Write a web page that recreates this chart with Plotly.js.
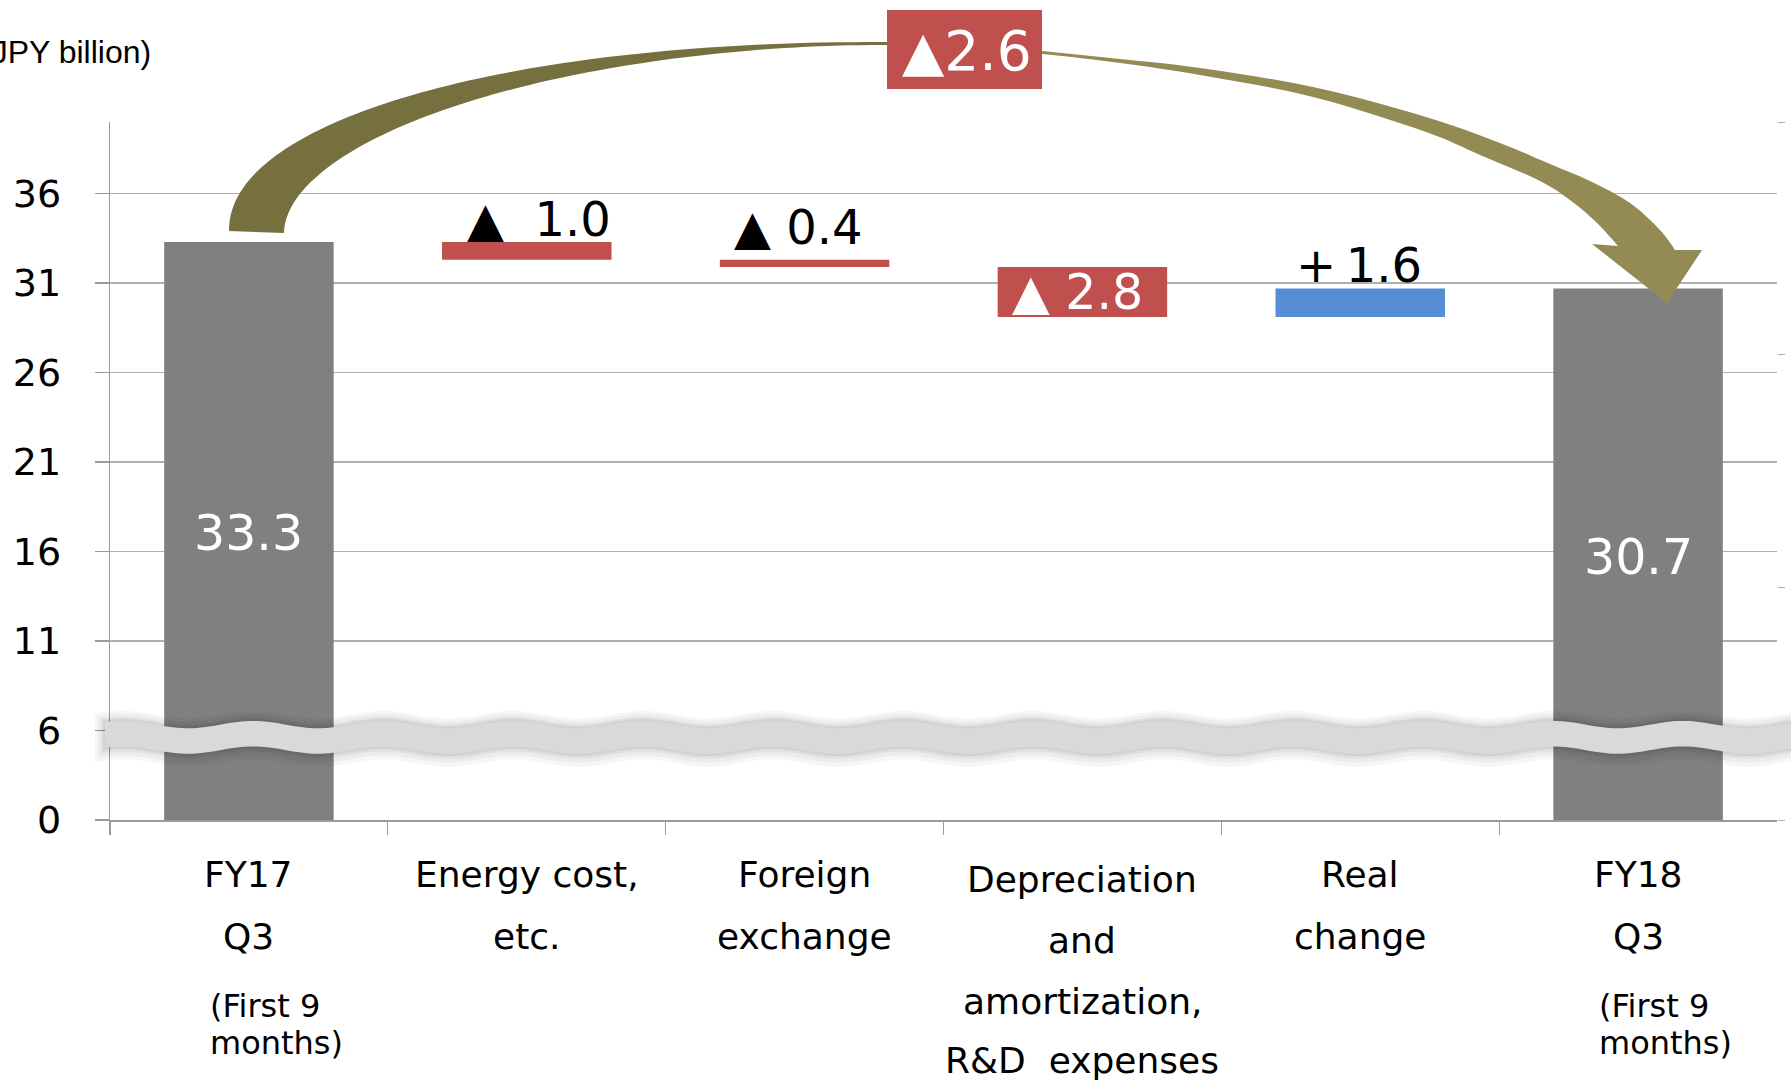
<!DOCTYPE html>
<html>
<head>
<meta charset="utf-8">
<script src="https://cdn.plot.ly/plotly-3.0.1.min.js"></script>
<style>
html,body{margin:0;padding:0;background:#ffffff;}
#chart{width:1791px;height:1085px;}
</style>
</head>
<body>
<div id="chart"></div>
<script>
// ---------------- data ----------------
const categories = ["FY17 Q3", "Energy cost, etc.", "Foreign exchange",
  "Depreciation and amortization, R&D expenses", "Real change", "FY18 Q3"];
const startTotal = 33.3;                 // FY17 Q3 (first 9 months)
const endTotal = 30.7;                   // FY18 Q3 (first 9 months)
const changeValues = [-1.0, -0.4, -2.8, 1.6];
const totalChange = -2.6;
const yTickVals = [1, 6, 11, 16, 21, 26, 31, 36];
const yTickText = ["0", "6", "11", "16", "21", "26", "31", "36"];
const categoryLines = [
  ["FY17", "Q3"],
  ["Energy cost,", "etc."],
  ["Foreign", "exchange"],
  ["Depreciation", "and", "amortization,", "R&amp;D\u00a0\u00a0expenses"],
  ["Real", "change"],
  ["FY18", "Q3"]
];
const periodNote = ["(First 9", "months)"];
const periodNoteCats = [0, 5];
const unitLabel = "(JPY billion)";

// ---------------- style / geometry ----------------
const W = 1791, H = 1085, L = 110, R = 14, T = 122, B = 265;
const plotW = W - L - R, plotH = H - T - B;
const yMin = 1, yMax = 40;
const GRAY = '#808080', RED = '#C0504D', BLUE = '#558ED5';
const FONT = 'DejaVu Sans, Verdana, sans-serif';
const AXC = '#9a9a9a';

function pxX(px) { return (px - L) / plotW; }
function pxY(py) { return (H - B - py) / plotH; }

// ---------------- waterfall bars ----------------
const bases = [], heights = [], colors = [];
bases.push(0); heights.push(startTotal); colors.push(GRAY);
let running = startTotal;
changeValues.forEach(v => {
  const next = running + v;
  bases.push(Math.min(running, next));
  heights.push(Math.abs(v));
  colors.push(v < 0 ? RED : BLUE);
  running = next;
});
bases.push(0); heights.push(endTotal); colors.push(GRAY);

const traces = [
  {
    type: 'bar', x: categories, y: heights, base: bases,
    marker: {color: colors, line: {width: 0}}, width: 0.61,
    hoverinfo: 'skip', showlegend: false
  },
  {
    type: 'scatter', x: [categories[0]], y: [null], yaxis: 'y2',
    mode: 'markers', hoverinfo: 'skip', showlegend: false
  }
];

// ---------------- annotations ----------------
const annotations = [];
const rowsTwo = [874, 936], rowsFour = [879.5, 940.5, 1001, 1060.5];
categoryLines.forEach((lines, i) => {
  const rows = lines.length === 4 ? rowsFour : rowsTwo;
  lines.forEach((t, j) => annotations.push({
    xref: 'x', yref: 'paper', x: categories[i], y: pxY(rows[j]), text: t,
    showarrow: false, xanchor: 'center', yanchor: 'middle',
    font: {family: FONT, size: 36, color: '#000'}
  }));
});
periodNoteCats.forEach(i => {
  [1006, 1043].forEach((row, j) => annotations.push({
    xref: 'x', yref: 'paper', x: categories[i], y: pxY(row), text: periodNote[j],
    showarrow: false, xanchor: 'left', yanchor: 'middle', xshift: -41,
    font: {family: FONT, size: 32, color: '#000'}
  }));
});

// totals inside gray bars
[[0, startTotal], [5, endTotal]].forEach(([i, v]) => annotations.push({
  xref: 'x', yref: 'y', x: categories[i], y: (yMin + v) / 2, yshift: -3,
  text: v.toFixed(1), showarrow: false, xanchor: 'center', yanchor: 'middle',
  font: {family: FONT, size: 49, color: '#ffffff'}
}));

// change labels
const gapText = ['\u00a0\u00a0', '\u00a0', '\u00a0', '\u2009'];
const labelShift = [[12, 23, false], [-6.5, 33, false], [-4.5, 0, true], [-1, 23, false]];
changeValues.forEach((v, k) => {
  const i = k + 1;
  const txt = (v < 0 ? '\u25B2' : '+') + gapText[k] + Math.abs(v).toFixed(1);
  const [dx, dy, inside] = labelShift[k];
  const top = bases[i] + heights[i];
  annotations.push({
    xref: 'x', yref: 'y', x: categories[i],
    y: inside ? bases[i] + heights[i] / 2 : top,
    xshift: dx, yshift: dy, text: txt, showarrow: false,
    xanchor: 'center', yanchor: 'middle',
    font: {family: FONT, size: inside ? 49 : 48, color: inside ? '#ffffff' : '#000000'}
  });
});

// total change box label
const totalTxt = (totalChange < 0 ? '\u25B2' : '+') + Math.abs(totalChange).toFixed(1);
annotations.push({
  xref: 'paper', yref: 'paper', x: pxX(967), y: pxY(50.5), text: totalTxt,
  showarrow: false, xanchor: 'center', yanchor: 'middle',
  font: {family: FONT, size: 55, color: '#ffffff'}
});

// unit label
annotations.push({
  xref: 'paper', yref: 'paper', x: pxX(153), y: pxY(52), text: unitLabel,
  showarrow: false, xanchor: 'right', yanchor: 'middle',
  font: {family: 'Liberation Sans, Arial, sans-serif', size: 32, color: '#000'}
});

// ---------------- decorative shapes ----------------
function smooth(pts, n) {
  n = n || 8;
  const out = [];
  for (let i = 0; i < pts.length - 1; i++) {
    const p0 = pts[Math.max(i - 1, 0)], p1 = pts[i], p2 = pts[i + 1], p3 = pts[Math.min(i + 2, pts.length - 1)];
    for (let k = 0; k < n; k++) {
      const t = k / n, t2 = t * t, t3 = t2 * t;
      const f = (a, b, c, d) => 0.5 * ((2 * b) + (-a + c) * t + (2 * a - 5 * b + 4 * c - d) * t2 + (-a + 3 * b - 3 * c + d) * t3);
      out.push([f(p0[0], p1[0], p2[0], p3[0]), f(p0[1], p1[1], p2[1], p3[1])]);
    }
  }
  out.push(pts[pts.length - 1]);
  return out;
}
function pathFrom(pts) {
  return 'M' + pts.map(p => pxX(p[0]).toFixed(5) + ',' + pxY(p[1]).toFixed(5)).join('L') + 'Z';
}
// quarter super-ellipse from (cx-a, cy) up to (cx, cy-b)
function superArc(cx, cy, a, b, n, steps) {
  const pts = [];
  for (let s = 0; s <= steps; s++) {
    const th = (Math.PI / 2) * s / steps;
    const u = Math.pow(Math.cos(th), 2 / n), v = Math.pow(Math.sin(th), 2 / n);
    pts.push([cx - a * u, cy - b * v]);
  }
  return pts;
}

const shapes = [];

// axis break band (wavy) with soft shadow
function bandPts(x0, x1, d, dBelow) {
  const top = [], bot = [];
  for (let x = x0; x <= x1; x += 4) {
    const yt = 724.6 - 3.7 * Math.cos(2 * Math.PI * (x - 253) / 130);
    top.push([x, yt - d]);
    bot.push([x, yt + 25.5 + dBelow]);
  }
  return top.concat(bot.reverse());
}
[[10, 13, 0.035], [7, 9, 0.04], [4, 5, 0.05], [2, 2.5, 0.06]].forEach(([d, db, a]) => {
  shapes.push({type: 'path', xref: 'paper', yref: 'paper', layer: 'above',
    path: pathFrom(bandPts(105 - d, 1800, d, db)),
    fillcolor: 'rgba(0,0,0,' + a + ')', line: {width: 0}});
});
shapes.push({type: 'path', xref: 'paper', yref: 'paper', layer: 'above',
  path: pathFrom(bandPts(105, 1800, 0, 0)), fillcolor: '#D9D9D9', line: {width: 0}});

// curved arrow (left, darker part) – outer and inner edges as super-elliptic arcs
const outerL = superArc(880, 231, 651, 189, 2.1, 80).concat([[975, 42]]);
const innerL = superArc(880, 233, 596, 188, 1.9, 80).concat([[975, 46]]).reverse();
shapes.push({type: 'path', xref: 'paper', yref: 'paper', layer: 'above',
  path: pathFrom(outerL.concat(innerL)),
  fillcolor: '#76703F', line: {width: 0}});
// right, lighter part with head
const outerR = [[955,43],[1042,51],[1120,59],[1200,68],[1313,87],[1426,117],[1500,143],[1550,164],[1590,181],[1630,203],[1660,230],[1675,250]];
const head = [[1702,250],[1667,303],[1592,244]];
const innerR = [[1618,246],[1597,223],[1570,200],[1538,180],[1480,155],[1426,132],[1313,97],[1200,75],[1120,63],[1042,54],[955,47]];
shapes.push({type: 'path', xref: 'paper', yref: 'paper', layer: 'above',
  path: pathFrom(smooth(outerR).concat(head).concat(smooth(innerR))),
  fillcolor: '#948A54', line: {width: 0}});

// total change box
shapes.push({type: 'rect', xref: 'paper', yref: 'paper', layer: 'above',
  x0: pxX(887), x1: pxX(1042), y0: pxY(89), y1: pxY(10),
  fillcolor: RED, line: {width: 0}});

// hide the extra category-boundary tick at the far right end of the x axis
shapes.push({type: 'rect', xref: 'paper', yref: 'paper', layer: 'above',
  x0: pxX(1774), x1: pxX(1782), y0: pxY(836), y1: pxY(822),
  fillcolor: '#ffffff', line: {width: 0}});

// ---------------- layout ----------------
const layout = {
  width: W, height: H,
  margin: {l: L, r: R, t: T, b: B, pad: 0},
  paper_bgcolor: '#ffffff', plot_bgcolor: '#ffffff',
  showlegend: false,
  xaxis: {
    type: 'category', range: [-0.5, 5.5], showticklabels: false,
    ticks: 'outside', tickson: 'boundaries', ticklen: 13, tickcolor: AXC, tickwidth: 1.3,
    showline: true, linecolor: AXC, linewidth: 1.5, showgrid: false, zeroline: false,
    fixedrange: true
  },
  yaxis: {
    range: [yMin, yMax], tickvals: yTickVals, ticktext: yTickText,
    ticks: 'outside', ticklen: 14, tickcolor: AXC, tickwidth: 1.3,
    ticklabelstandoff: 26,
    showline: true, linecolor: AXC, linewidth: 1.3,
    showgrid: true, gridcolor: '#B0B0B0', gridwidth: 1.4, zeroline: false,
    tickfont: {family: FONT, size: 38, color: '#000'}, fixedrange: true
  },
  yaxis2: {
    overlaying: 'y', side: 'right', range: [yMin, yMax], tickvals: [1, 14, 27, 40],
    showticklabels: false, ticks: 'outside', ticklen: 7, tickcolor: '#b0b0b0',
    showgrid: false, showline: false, zeroline: false, fixedrange: true
  },
  bargap: 0.39,
  annotations: annotations,
  shapes: shapes
};

Plotly.newPlot('chart', traces, layout, {displayModeBar: false, staticPlot: true});
</script>
</body>
</html>
